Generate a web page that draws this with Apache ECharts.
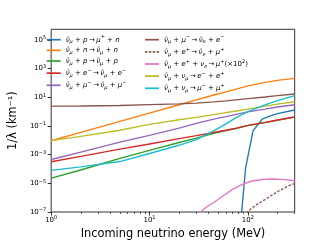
<!DOCTYPE html>
<html><head><meta charset="utf-8">
<script src="https://cdn.jsdelivr.net/npm/echarts@6/dist/echarts.min.js"></script>
<style>html,body{margin:0;padding:0;background:#fff}#c{width:327px;height:245px}</style>
</head><body><div id="c"></div><script>
// Shared energy grid (MeV)
const energy = [1, 2, 5, 10, 20, 30, 45, 60, 76, 100, 150, 200, 300];
// 1/lambda (km^-1)
const nuBarN_NC   = [0.0093, 0.0354, 0.208, 0.79, 3.02, 6.6, 14.4, 24, 37, 62, 110, 150, 210];     // orange
const nuBarP_NC   = [2.3e-5, 8.5e-5, 5.5e-4, 2.0e-3, 7.0e-3, 0.014, 0.031, 0.048, 0.066, 0.105, 0.17, 0.25, 0.41]; // green
const nuBarE_ES   = [3.2e-4, 7.5e-4, 2.4e-3, 5.5e-3, 0.013, 0.021, 0.035, 0.05, 0.07, 0.11, 0.18, 0.26, 0.42];  // red
const nuBarMu_ES  = [4.6e-4, 1.5e-3, 7.5e-3, 0.022, 0.07, 0.15, 0.3, 0.45, 0.65, 0.95, 1.5, 2.1, 3.0];        // purple
const nuBarMu_CC  = [2.4, 2.45, 2.65, 3.1, 3.5, 3.9, 4.8, 5.6, 6.6, 8.0, 10.5, 13, 17];                      // brown
const nuNu_ee     = [0.0095, 0.019, 0.05, 0.13, 0.27, 0.4, 0.62, 0.85, 1.1, 1.5, 2.4, 3.3, 4.9];             // olive
const nuNu_mumu   = [7.9e-5, 1.4e-4, 3.3e-4, 1.2e-3, 4.5e-3, 0.011, 0.045, 0.14, 0.38, 1.0, 3.0, 5.8, 13];    // cyan
// threshold reactions
const pCC_E   = [84, 95, 113, 140, 170, 200, 300];
const pCC_V   = [1e-8, 1.2e-4, 0.045, 0.3, 0.5, 0.72, 1.3];                                                  // blue
const ePlusNu_E = [30, 33, 38, 45, 55, 70, 88, 110, 140, 175, 220, 300];
const ePlusNu_V = [3e-8, 1e-7, 2.2e-7, 4.6e-7, 1.2e-6, 3.8e-6, 8.5e-6, 1.45e-5, 1.85e-5, 2.0e-5, 1.9e-5, 1.5e-5]; // pink
const ePlus_E = [97, 100, 120, 148, 200, 250, 300];
const ePlus_V = [4e-8, 1.1e-7, 3e-7, 7e-7, 2.6e-6, 5.8e-6, 1.0e-5];                                          // dashed brown
// ticks
const xMajorTicks = [1, 10, 100];
const xMinorTicks = [2, 3, 4, 5, 6, 7, 8, 9, 20, 30, 40, 50, 60, 70, 80, 90, 200, 300];
const yMajorTicks = [1e-7, 1e-5, 1e-3, 1e-1, 1e1, 1e3, 1e5];

const zip = (xs, ys) => xs.map((x, i) => [x, ys[i]]);
const lbl = parts => parts.map(([s, t]) => '{' + s + '|' + t + '}').join('');
const NB = [['v', 'ν̄'], ['sb', 'μ']];
const AR = ['o', '\u2009→\u2009'];
const PL = ['o', ' + '];

const names = [
  'ν̄μ + p → μ⁺ + n', 'ν̄μ + n → ν̄μ + n', 'ν̄μ + p → ν̄μ + p', 'ν̄μ + e⁻ → ν̄μ + e⁻', 'ν̄μ + μ⁻ → ν̄μ + μ⁻',
  'ν̄μ + μ⁻ → ν̄e + e⁻', 'ν̄μ + e⁺ → ν̄e + μ⁺', 'ν̄μ + e⁺ + νe → μ⁺ (×10²)', 'ν̄μ + νμ → e⁻ + e⁺', 'ν̄μ + νμ → μ⁻ + μ⁺'
];
const richLabels = {};
richLabels[names[0]] = lbl([...NB, PL, ['v','p'], AR, ['v','μ'], ['sp','+'], PL, ['v','n']]);
richLabels[names[1]] = lbl([...NB, PL, ['v','n'], AR, ...NB, PL, ['v','n']]);
richLabels[names[2]] = lbl([...NB, PL, ['v','p'], AR, ...NB, PL, ['v','p']]);
richLabels[names[3]] = lbl([...NB, PL, ['v','e'], ['sp','−'], AR, ...NB, PL, ['v','e'], ['sp','−']]);
richLabels[names[4]] = lbl([...NB, PL, ['v','μ'], ['sp','−'], AR, ...NB, PL, ['v','μ'], ['sp','−']]);
richLabels[names[5]] = lbl([...NB, PL, ['v','μ'], ['sp','−'], AR, ['v','ν̄'], ['sb','e'], PL, ['v','e'], ['sp','−']]);
richLabels[names[6]] = lbl([...NB, PL, ['v','e'], ['sp','+'], AR, ['v','ν̄'], ['sb','e'], PL, ['v','μ'], ['sp','+']]);
richLabels[names[7]] = lbl([...NB, PL, ['v','e'], ['sp','+'], PL, ['v','ν'], ['sb','e'], AR, ['v','μ'], ['sp','+'], ['o','(×10'], ['sp','2'], ['o',')']]);
richLabels[names[8]] = lbl([...NB, PL, ['v','ν'], ['sb','μ'], AR, ['v','e'], ['sp','−'], PL, ['v','e'], ['sp','+']]);
richLabels[names[9]] = lbl([...NB, PL, ['v','ν'], ['sb','μ'], AR, ['v','μ'], ['sp','−'], PL, ['v','μ'], ['sp','+']]);

const FF = 'DejaVu Sans';
const legendRich = {
  v:  {fontFamily: FF, fontStyle: 'italic', fontSize: 7, lineHeight: 10, color: '#000'},
  o:  {fontFamily: FF, fontSize: 7, lineHeight: 10, color: '#000'},
  sb: {fontFamily: FF, fontStyle: 'italic', fontSize: 5, lineHeight: 6, verticalAlign: 'bottom', color: '#000'},
  sp: {fontFamily: FF, fontSize: 5, lineHeight: 6, verticalAlign: 'top', color: '#000'}
};
const tickRich = {
  b: {fontFamily: FF, fontSize: 7, lineHeight: 9, color: '#000'},
  e: {fontFamily: FF, fontSize: 5, lineHeight: 5, verticalAlign: 'top', color: '#000'}
};
function expLabel(v, oddOnly) {
  const l = Math.log10(v), e = Math.round(l);
  if (Math.abs(l - e) > 1e-6) return '';
  if (oddOnly && Math.abs(e % 2) !== 1) return '';
  return '{b|10}{e|' + (e < 0 ? '−' + (-e) : '' + e) + '}';
}

const colors = ['#1f77b4', '#ff7f0e', '#2ca02c', '#d62728', '#9467bd', '#8c564b', '#8c564b', '#e377c2', '#bcbd22', '#17becf'];
const seriesData = [
  zip(pCC_E, pCC_V), zip(energy, nuBarN_NC), zip(energy, nuBarP_NC), zip(energy, nuBarE_ES), zip(energy, nuBarMu_ES),
  zip(energy, nuBarMu_CC), zip(ePlus_E, ePlus_V), zip(ePlusNu_E, ePlusNu_V), zip(energy, nuNu_ee), zip(energy, nuNu_mumu)
];
const series = names.map((n, i) => ({
  name: n, type: 'line', data: seriesData[i], symbol: 'none', smooth: false,
  xAxisIndex: 0, yAxisIndex: 0, clip: true,
  lineStyle: {color: colors[i], width: 1.35, type: i === 6 ? [2.6, 1.6] : 'solid'},
  itemStyle: {color: colors[i]}
}));

const solidIcon = 'path://M0,0H14V1.7H0Z';
const dashIcon = 'path://M0,0H2.4V1.7H0Z M3.87,0H6.27V1.7H3.87Z M7.73,0H10.13V1.7H7.73Z M11.6,0H14V1.7H11.6Z';
const legendItems = names.map((n, i) => ({name: n, icon: i === 6 ? dashIcon : solidIcon}));

const legendCommon = {
  orient: 'vertical', padding: 0, itemWidth: 14, itemHeight: 10, itemGap: 2.15,
  top: 34.7, symbolKeepAspect: true, formatter: n => richLabels[n],
  textStyle: {fontSize: 7, color: '#000', rich: legendRich}
};

const chart = echarts.init(document.getElementById('c'), null, {renderer: 'canvas'});
chart.setOption({
  animation: false,
  backgroundColor: '#fff',
  grid: {left: 40.3, right: 32.3, top: 29.3, bottom: 26.7, show: true, borderColor: '#000', borderWidth: 0.8, backgroundColor: 'transparent', containLabel: false},
  legend: [
    Object.assign({}, legendCommon, {left: 46.7, data: legendItems.slice(0, 5)}),
    Object.assign({}, legendCommon, {left: 145, data: legendItems.slice(5)})
  ],
  xAxis: [{
    type: 'log', logBase: 10, min: 1, max: 300, interval: 1, position: 'bottom',
    name: 'Incoming neutrino energy (MeV)', nameLocation: 'middle', nameGap: 17,
    nameTextStyle: {fontFamily: FF, fontSize: 11.4, color: '#000'},
    axisLine: {show: false},
    axisTick: {show: true, length: 3.5, lineStyle: {color: '#000', width: 0.8}, customValues: xMajorTicks},
    axisLabel: {margin: 3.2, align: 'center', showMinLabel: true, showMaxLabel: true, hideOverlap: false,
                formatter: v => expLabel(v, false), rich: tickRich},
    splitLine: {show: false}, minorTick: {show: false}
  }, {
    type: 'log', logBase: 10, min: 1, max: 300, position: 'bottom', offset: 0,
    axisLine: {show: false}, axisLabel: {show: false}, splitLine: {show: false},
    axisTick: {show: true, length: 2, lineStyle: {color: '#000', width: 0.6}, customValues: xMinorTicks}
  }],
  yAxis: [{
    type: 'log', logBase: 10, min: 1e-7, max: 5.5e5, interval: 2,
    name: '1/λ (km⁻¹)', nameLocation: 'middle', nameGap: 23,
    nameTextStyle: {fontFamily: FF, fontSize: 11.4, color: '#000'},
    axisLine: {show: false},
    axisTick: {show: true, length: 3.5, lineStyle: {color: '#000', width: 0.8}, customValues: yMajorTicks},
    axisLabel: {margin: 5, formatter: v => expLabel(v, true), rich: tickRich, customValues: yMajorTicks},
    splitLine: {show: false}
  }],
  series: series
});
</script></body></html>
